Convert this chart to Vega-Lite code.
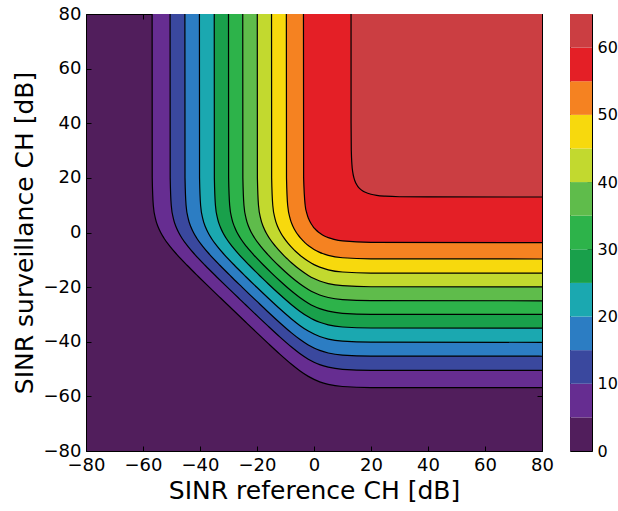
{
"$schema":"https://vega.github.io/schema/vega-lite/v6.json",
"padding":{"left":11,"top":4,"right":0,"bottom":0},
"config":{"font":"DejaVu Sans","view":{"stroke":"black"},"axis":{"labelColor":"black","titleColor":"black","tickColor":"black","titleFontWeight":"normal","grid":false,"domain":false,"labelFlush":false,"labelOverlap":false}},
"datasets":{
"bar":[
{"k":"c","level":"00","lo":0,"hi":5},{"k":"c","level":"05","lo":5,"hi":10},{"k":"c","level":"10","lo":10,"hi":15},{"k":"c","level":"15","lo":15,"hi":20},{"k":"c","level":"20","lo":20,"hi":25},{"k":"c","level":"25","lo":25,"hi":30},{"k":"c","level":"30","lo":30,"hi":35},{"k":"c","level":"35","lo":35,"hi":40},{"k":"c","level":"40","lo":40,"hi":45},{"k":"c","level":"45","lo":45,"hi":50},{"k":"c","level":"50","lo":50,"hi":55},{"k":"c","level":"55","lo":55,"hi":60},{"k":"c","level":"60","lo":60,"hi":65}
],
"contours":[
{"level":"05","x":-56.8,"y":80},{"level":"05","x":-56.76,"y":20},{"level":"05","x":-56.39,"y":10},{"level":"05","x":-55.61,"y":5},{"level":"05","x":-54.68,"y":2},{"level":"05","x":-53.79,"y":0},{"level":"05","x":-52.68,"y":-2},{"level":"05","x":-50.61,"y":-5},{"level":"05","x":-48.16,"y":-8},{"level":"05","x":-44.53,"y":-12},{"level":"05","x":-40.69,"y":-16},{"level":"05","x":-36.76,"y":-20},{"level":"05","x":-32.78,"y":-24},{"level":"05","x":-28.39,"y":-28.39},{"level":"05","x":-24,"y":-32.78},{"level":"05","x":-20,"y":-36.76},{"level":"05","x":-16,"y":-40.69},{"level":"05","x":-12,"y":-44.53},{"level":"05","x":-8,"y":-48.16},{"level":"05","x":-5,"y":-50.61},{"level":"05","x":-2,"y":-52.68},{"level":"05","x":0,"y":-53.79},{"level":"05","x":2,"y":-54.68},{"level":"05","x":5,"y":-55.61},{"level":"05","x":10,"y":-56.39},{"level":"05","x":20,"y":-56.76},{"level":"05","x":80,"y":-56.8},
{"level":"10","x":-50.5,"y":80},{"level":"10","x":-50.46,"y":20},{"level":"10","x":-50.09,"y":10},{"level":"10","x":-49.31,"y":5},{"level":"10","x":-48.38,"y":2},{"level":"10","x":-47.49,"y":0},{"level":"10","x":-46.38,"y":-2},{"level":"10","x":-44.31,"y":-5},{"level":"10","x":-41.86,"y":-8},{"level":"10","x":-38.23,"y":-12},{"level":"10","x":-34.39,"y":-16},{"level":"10","x":-30.45,"y":-20},{"level":"10","x":-26.47,"y":-24},{"level":"10","x":-25.24,"y":-25.24},{"level":"10","x":-24,"y":-26.47},{"level":"10","x":-20,"y":-30.45},{"level":"10","x":-16,"y":-34.39},{"level":"10","x":-12,"y":-38.23},{"level":"10","x":-8,"y":-41.86},{"level":"10","x":-5,"y":-44.31},{"level":"10","x":-2,"y":-46.38},{"level":"10","x":0,"y":-47.49},{"level":"10","x":2,"y":-48.38},{"level":"10","x":5,"y":-49.31},{"level":"10","x":10,"y":-50.09},{"level":"10","x":20,"y":-50.46},{"level":"10","x":80,"y":-50.5},
{"level":"15","x":-45.3,"y":80},{"level":"15","x":-45.26,"y":20},{"level":"15","x":-44.89,"y":10},{"level":"15","x":-44.11,"y":5},{"level":"15","x":-43.18,"y":2},{"level":"15","x":-42.29,"y":0},{"level":"15","x":-41.18,"y":-2},{"level":"15","x":-39.11,"y":-5},{"level":"15","x":-36.66,"y":-8},{"level":"15","x":-33.03,"y":-12},{"level":"15","x":-29.19,"y":-16},{"level":"15","x":-25.24,"y":-20},{"level":"15","x":-22.63,"y":-22.63},{"level":"15","x":-20,"y":-25.24},{"level":"15","x":-16,"y":-29.19},{"level":"15","x":-12,"y":-33.03},{"level":"15","x":-8,"y":-36.66},{"level":"15","x":-5,"y":-39.11},{"level":"15","x":-2,"y":-41.18},{"level":"15","x":0,"y":-42.29},{"level":"15","x":2,"y":-43.18},{"level":"15","x":5,"y":-44.11},{"level":"15","x":10,"y":-44.89},{"level":"15","x":20,"y":-45.26},{"level":"15","x":80,"y":-45.3},
{"level":"20","x":-40.2,"y":80},{"level":"20","x":-40.16,"y":20},{"level":"20","x":-39.79,"y":10},{"level":"20","x":-39.01,"y":5},{"level":"20","x":-38.08,"y":2},{"level":"20","x":-37.19,"y":0},{"level":"20","x":-36.08,"y":-2},{"level":"20","x":-34.01,"y":-5},{"level":"20","x":-31.56,"y":-8},{"level":"20","x":-27.93,"y":-12},{"level":"20","x":-24.08,"y":-16},{"level":"20","x":-20.06,"y":-20.06},{"level":"20","x":-16,"y":-24.08},{"level":"20","x":-12,"y":-27.93},{"level":"20","x":-8,"y":-31.56},{"level":"20","x":-5,"y":-34.01},{"level":"20","x":-2,"y":-36.08},{"level":"20","x":0,"y":-37.19},{"level":"20","x":2,"y":-38.08},{"level":"20","x":5,"y":-39.01},{"level":"20","x":10,"y":-39.79},{"level":"20","x":20,"y":-40.16},{"level":"20","x":80,"y":-40.2},
{"level":"25","x":-35,"y":80},{"level":"25","x":-34.96,"y":20},{"level":"25","x":-34.59,"y":10},{"level":"25","x":-33.81,"y":5},{"level":"25","x":-32.87,"y":2},{"level":"25","x":-31.99,"y":0},{"level":"25","x":-30.87,"y":-2},{"level":"25","x":-28.8,"y":-5},{"level":"25","x":-26.35,"y":-8},{"level":"25","x":-22.71,"y":-12},{"level":"25","x":-18.84,"y":-16},{"level":"25","x":-17.42,"y":-17.42},{"level":"25","x":-16,"y":-18.84},{"level":"25","x":-12,"y":-22.71},{"level":"25","x":-8,"y":-26.35},{"level":"25","x":-5,"y":-28.8},{"level":"25","x":-2,"y":-30.87},{"level":"25","x":0,"y":-31.99},{"level":"25","x":2,"y":-32.87},{"level":"25","x":5,"y":-33.81},{"level":"25","x":10,"y":-34.59},{"level":"25","x":20,"y":-34.96},{"level":"25","x":80,"y":-35},
{"level":"30","x":-30,"y":80},{"level":"30","x":-29.96,"y":20},{"level":"30","x":-29.59,"y":10},{"level":"30","x":-28.81,"y":5},{"level":"30","x":-27.87,"y":2},{"level":"30","x":-26.99,"y":0},{"level":"30","x":-25.87,"y":-2},{"level":"30","x":-23.79,"y":-5},{"level":"30","x":-21.33,"y":-8},{"level":"30","x":-17.66,"y":-12},{"level":"30","x":-14.86,"y":-14.86},{"level":"30","x":-12,"y":-17.66},{"level":"30","x":-8,"y":-21.33},{"level":"30","x":-5,"y":-23.79},{"level":"30","x":-2,"y":-25.87},{"level":"30","x":0,"y":-26.99},{"level":"30","x":2,"y":-27.87},{"level":"30","x":5,"y":-28.81},{"level":"30","x":10,"y":-29.59},{"level":"30","x":20,"y":-29.96},{"level":"30","x":80,"y":-30},
{"level":"35","x":-25,"y":80},{"level":"35","x":-24.96,"y":20},{"level":"35","x":-24.58,"y":10},{"level":"35","x":-23.8,"y":5},{"level":"35","x":-22.87,"y":2},{"level":"35","x":-21.98,"y":0},{"level":"35","x":-20.85,"y":-2},{"level":"35","x":-18.76,"y":-5},{"level":"35","x":-16.27,"y":-8},{"level":"35","x":-14.45,"y":-10},{"level":"35","x":-12.26,"y":-12.26},{"level":"35","x":-10,"y":-14.45},{"level":"35","x":-8,"y":-16.27},{"level":"35","x":-5,"y":-18.76},{"level":"35","x":-2,"y":-20.85},{"level":"35","x":0,"y":-21.98},{"level":"35","x":2,"y":-22.87},{"level":"35","x":5,"y":-23.8},{"level":"35","x":10,"y":-24.58},{"level":"35","x":20,"y":-24.96},{"level":"35","x":80,"y":-25},
{"level":"40","x":-19.9,"y":80},{"level":"40","x":-19.86,"y":20},{"level":"40","x":-19.48,"y":10},{"level":"40","x":-18.69,"y":5},{"level":"40","x":-17.75,"y":2},{"level":"40","x":-16.85,"y":0},{"level":"40","x":-15.71,"y":-2},{"level":"40","x":-13.56,"y":-5},{"level":"40","x":-10.97,"y":-8},{"level":"40","x":-10.02,"y":-9},{"level":"40","x":-9.51,"y":-9.51},{"level":"40","x":-9,"y":-10.02},{"level":"40","x":-8,"y":-10.97},{"level":"40","x":-5,"y":-13.56},{"level":"40","x":-2,"y":-15.71},{"level":"40","x":0,"y":-16.85},{"level":"40","x":2,"y":-17.75},{"level":"40","x":5,"y":-18.69},{"level":"40","x":10,"y":-19.48},{"level":"40","x":20,"y":-19.86},{"level":"40","x":80,"y":-19.9},
{"level":"45","x":-14.9,"y":80},{"level":"45","x":-14.86,"y":20},{"level":"45","x":-14.47,"y":10},{"level":"45","x":-13.66,"y":5},{"level":"45","x":-12.69,"y":2},{"level":"45","x":-11.75,"y":0},{"level":"45","x":-10.55,"y":-2},{"level":"45","x":-9.08,"y":-4},{"level":"45","x":-7.33,"y":-6},{"level":"45","x":-6.67,"y":-6.67},{"level":"45","x":-6,"y":-7.33},{"level":"45","x":-4,"y":-9.08},{"level":"45","x":-2,"y":-10.55},{"level":"45","x":0,"y":-11.75},{"level":"45","x":2,"y":-12.69},{"level":"45","x":5,"y":-13.66},{"level":"45","x":10,"y":-14.47},{"level":"45","x":20,"y":-14.86},{"level":"45","x":80,"y":-14.9},
{"level":"50","x":-9.7,"y":80},{"level":"50","x":-9.65,"y":20},{"level":"50","x":-9.24,"y":10},{"level":"50","x":-8.36,"y":5},{"level":"50","x":-7.7,"y":3},{"level":"50","x":-7.27,"y":2},{"level":"50","x":-6.78,"y":1},{"level":"50","x":-6.2,"y":0},{"level":"50","x":-5.53,"y":-1},{"level":"50","x":-4.77,"y":-2},{"level":"50","x":-3.89,"y":-3},{"level":"50","x":-3.45,"y":-3.45},{"level":"50","x":-3,"y":-3.89},{"level":"50","x":-2,"y":-4.77},{"level":"50","x":-1,"y":-5.53},{"level":"50","x":0,"y":-6.2},{"level":"50","x":1,"y":-6.78},{"level":"50","x":2,"y":-7.27},{"level":"50","x":3,"y":-7.7},{"level":"50","x":5,"y":-8.36},{"level":"50","x":10,"y":-9.24},{"level":"50","x":20,"y":-9.65},{"level":"50","x":80,"y":-9.7},
{"level":"55","x":-3.7,"y":80},{"level":"55","x":-3.64,"y":20},{"level":"55","x":-3.1,"y":10},{"level":"55","x":-2.52,"y":7},{"level":"55","x":-1.88,"y":5},{"level":"55","x":-1.44,"y":4},{"level":"55","x":-0.89,"y":3},{"level":"55","x":-0.21,"y":2},{"level":"55","x":0.19,"y":1.5},{"level":"55","x":0.82,"y":0.82},{"level":"55","x":1.5,"y":0.19},{"level":"55","x":2,"y":-0.21},{"level":"55","x":3,"y":-0.89},{"level":"55","x":4,"y":-1.44},{"level":"55","x":5,"y":-1.88},{"level":"55","x":7,"y":-2.52},{"level":"55","x":10,"y":-3.1},{"level":"55","x":20,"y":-3.64},{"level":"55","x":80,"y":-3.7},
{"level":"60","x":13,"y":80},{"level":"60","x":13.01,"y":40},{"level":"60","x":13.09,"y":30},{"level":"60","x":13.3,"y":25},{"level":"60","x":13.61,"y":22},{"level":"60","x":14.01,"y":20},{"level":"60","x":14.72,"y":18},{"level":"60","x":15.29,"y":17},{"level":"60","x":16.06,"y":16.06},{"level":"60","x":17,"y":15.29},{"level":"60","x":18,"y":14.72},{"level":"60","x":20,"y":14.01},{"level":"60","x":22,"y":13.61},{"level":"60","x":25,"y":13.3},{"level":"60","x":30,"y":13.09},{"level":"60","x":40,"y":13.01},{"level":"60","x":80,"y":13}
]},
"resolve":{"scale":{"x":"independent","y":"independent","color":"shared"}},
"spacing":15,
"hconcat":[
{"width":456,"height":437,
 "view":{"fill":"#511e5c","stroke":"black","strokeWidth":1},
 "data":{"name":"contours"},
 "layer":[
  {"mark":{"type":"area","interpolate":"monotone"},
   "encoding":{
    "x":{"field":"x","type":"quantitative","scale":{"domain":[-80,80],"nice":false},"axis":{"orient":"bottom","values":[-80,-60,-40,-20,0,20,40,60,80],"title":"SINR reference CH [dB]","labelFontSize":18,"titleFontSize":25,"tickSize":-5,"labelPadding":10,"titlePadding":4}},
    "y":{"field":"y","type":"quantitative","stack":null,"scale":{"domain":[-80,80],"nice":false},"axis":{"orient":"left","values":[-80,-60,-40,-20,0,20,40,60,80],"title":"SINR surveillance CH [dB]","labelFontSize":18,"titleFontSize":25,"tickSize":-5,"labelPadding":10,"titlePadding":6}},
    "y2":{"datum":80},
    "color":{"field":"level","type":"nominal","scale":{"domain":["00","05","10","15","20","25","30","35","40","45","50","55","60"],"range":["#511e5c","#662d91","#3a489e","#2c7dc3","#1ba8b0","#19a04b","#2db34a","#5fbc4b","#c2d92f","#f7d90d","#f58221","#e41f26","#cb3e42"]},"legend":null}
   }},
  {"mark":{"type":"line","interpolate":"monotone","color":"black","strokeWidth":1.2},
   "encoding":{
    "x":{"field":"x","type":"quantitative","scale":{"domain":[-80,80],"nice":false},"axis":{"orient":"top","values":[-80,-60,-40,-20,0,20,40,60,80],"labels":false,"title":null,"tickSize":-5}},
    "y":{"field":"y","type":"quantitative","scale":{"domain":[-80,80],"nice":false},"axis":{"orient":"right","values":[-80,-60,-40,-20,0,20,40,60,80],"labels":false,"title":null,"tickSize":-5}},
    "detail":{"field":"level"}
   }}
 ],
 "resolve":{"axis":{"x":"independent","y":"independent"}}
},
{"width":22,"height":437,
 "data":{"name":"bar"},
 "view":{"stroke":"black"},
 "mark":{"type":"rect"},
 "encoding":{
  "x":{"field":"k","type":"nominal","axis":null,"scale":{"paddingInner":0,"paddingOuter":0}},
  "y":{"field":"lo","type":"quantitative","scale":{"domain":[0,65],"nice":false},"axis":{"orient":"right","values":[0,10,20,30,40,50,60],"title":null,"labelFontSize":16,"tickSize":-5,"labelPadding":10}},
  "y2":{"field":"hi"},
  "color":{"field":"level","type":"nominal","scale":{"domain":["00","05","10","15","20","25","30","35","40","45","50","55","60"],"range":["#511e5c","#662d91","#3a489e","#2c7dc3","#1ba8b0","#19a04b","#2db34a","#5fbc4b","#c2d92f","#f7d90d","#f58221","#e41f26","#cb3e42"]},"legend":null}
 }
}
]
}
